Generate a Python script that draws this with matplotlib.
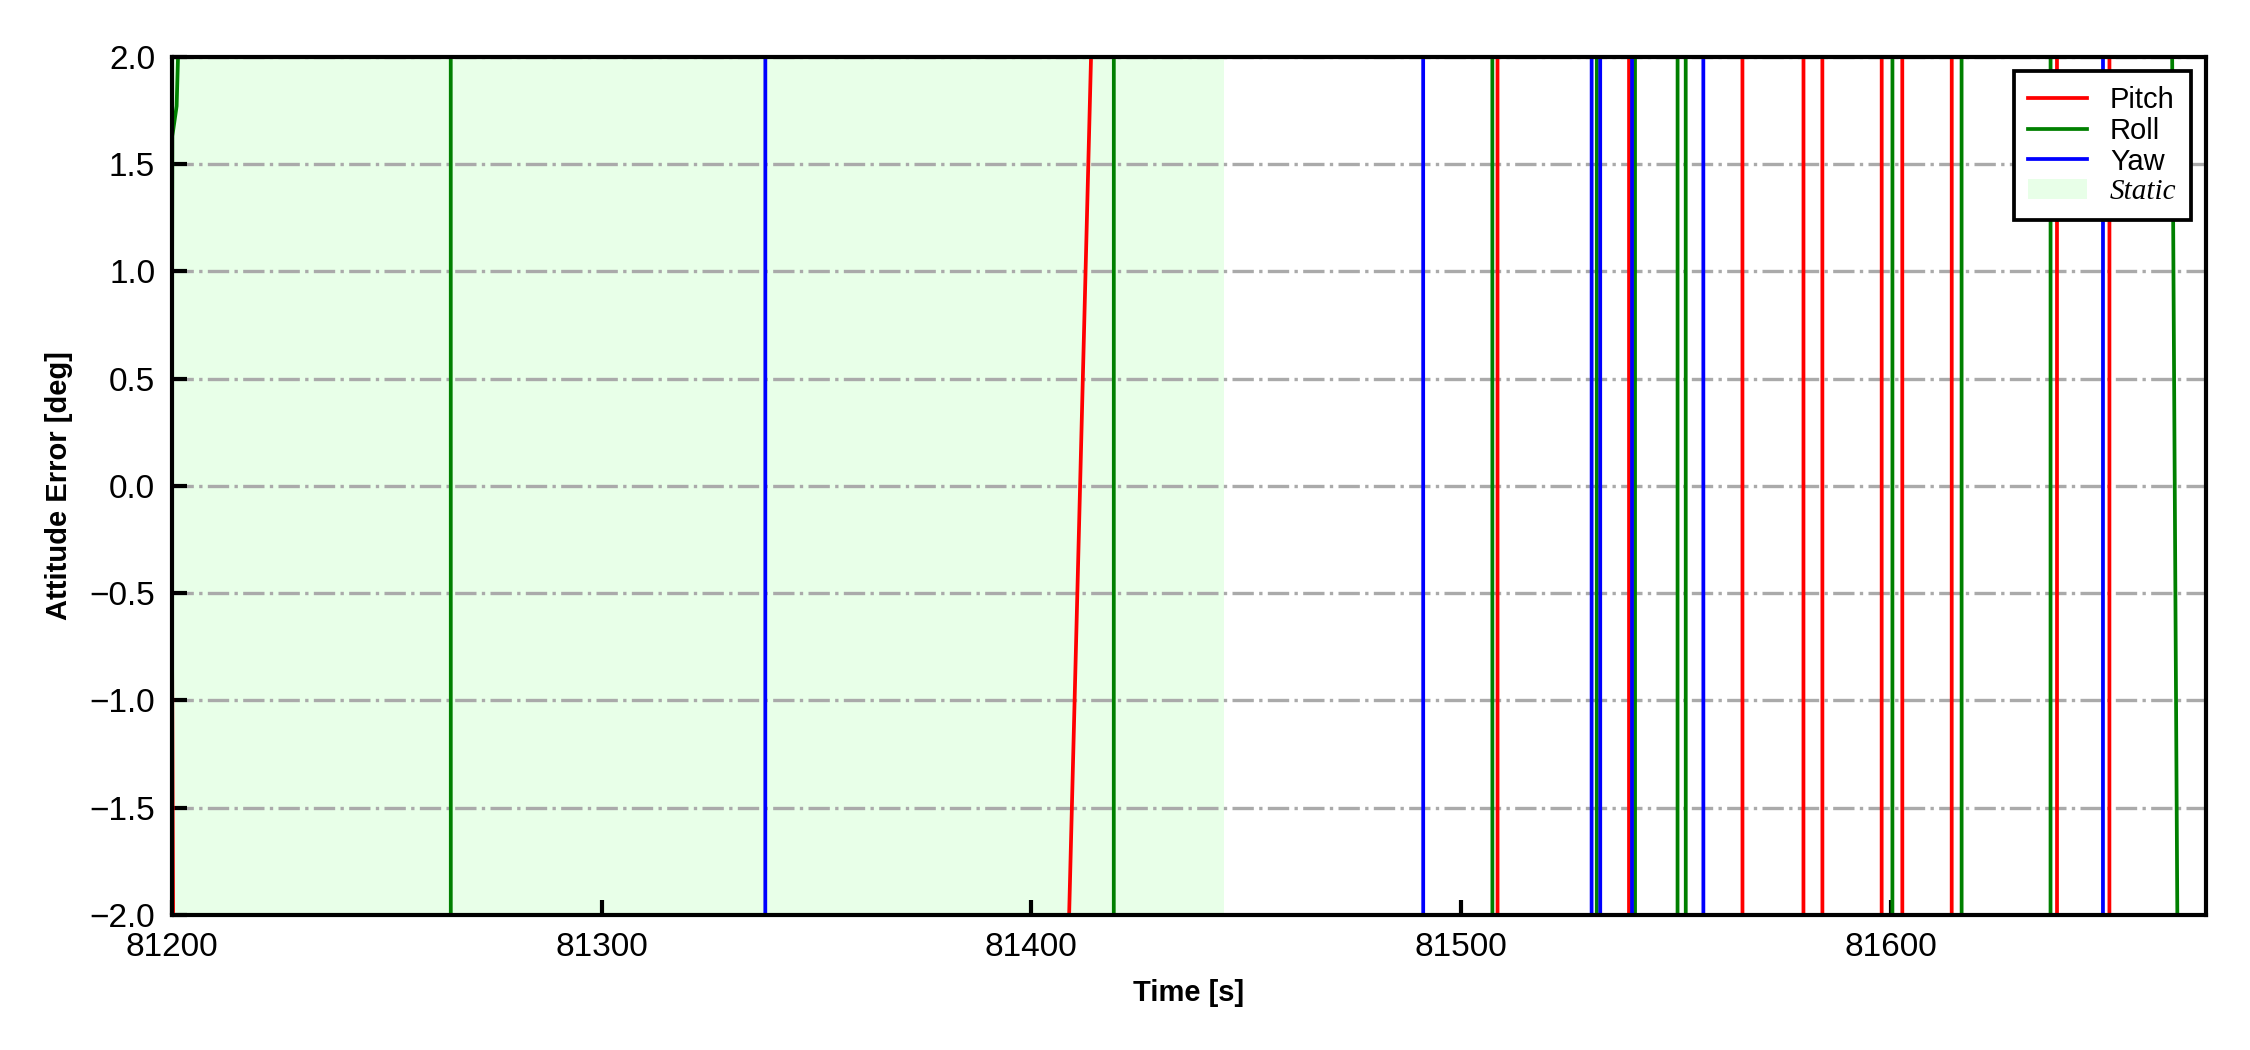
import matplotlib
matplotlib.use("Agg")
import matplotlib.pyplot as plt
from matplotlib.patches import Patch
from matplotlib.lines import Line2D

plt.rcParams['font.family'] = ['Liberation Sans', 'DejaVu Sans']

# attitude errors (deg), mostly far outside the +-2 window -> only wrap crossings show
pitch_t = [81200.0, 81200.3, 81201.0, 81408.0, 81415.0, 81508.4, 81508.6, 81539.0, 81539.2,
           81565.4, 81565.6, 81579.6, 81579.8, 81584.0, 81584.2, 81597.8, 81598.0,
           81602.6, 81602.8, 81614.1, 81614.3, 81638.6, 81638.8, 81650.8, 81651.0, 81673.3]
pitch_v = [-0.6, -2.1, -40.0, -2.63, 2.86, 40.0, -40.0, -40.0, 40.0,
           40.0, -40.0, -40.0, 40.0, 40.0, -40.0, -40.0, 40.0,
           40.0, -40.0, -40.0, 40.0, 40.0, -40.0, -40.0, 40.0, 40.0]

roll_t = [81200.0, 81200.1, 81201.1, 81201.5, 81202.0, 81264.8, 81265.0, 81419.1, 81419.3,
          81507.2, 81507.4, 81531.5, 81531.7, 81540.4, 81540.6, 81550.3, 81550.5,
          81552.2, 81552.4, 81600.3, 81600.5, 81616.4, 81616.6, 81637.1, 81637.3,
          81665.0, 81667.0, 81673.3]
roll_v = [0.5, 1.63, 1.77, 2.05, 40.0, 40.0, -40.0, -40.0, 40.0,
          40.0, -40.0, -40.0, 40.0, 40.0, -40.0, -40.0, 40.0,
          40.0, -40.0, -40.0, 40.0, 40.0, -40.0, -40.0, 40.0,
          3.67, -2.99, -40.0]

yaw_t = [81200.0, 81338.0, 81338.2, 81491.1, 81491.3, 81530.3, 81530.5, 81532.3, 81532.5,
         81539.7, 81539.9, 81556.3, 81556.5, 81649.3, 81649.5, 81673.3]
yaw_v = [-40.0, -40.0, 40.0, 40.0, -40.0, -40.0, 40.0, 40.0, -40.0,
         -40.0, 40.0, 40.0, -40.0, -40.0, 40.0, 40.0]

static_span = (81200.0, 81444.8)
x_range = (81200.0, 81673.3)

fig = plt.figure(figsize=(7.5, 3.5), dpi=300)
ax = fig.add_axes([0.0764, 0.1286, 0.9039, 0.8174])

ax.axvspan(*static_span, color='#00ff00', alpha=0.09, lw=0, zorder=0)
ax.plot(pitch_t, pitch_v, color='red', lw=0.9)
ax.plot(roll_t, roll_v, color='green', lw=0.9)
ax.plot(yaw_t, yaw_v, color='blue', lw=0.9)

ax.set_xlim(*x_range)
ax.set_ylim(-2, 2)
ax.set_xticks([81200, 81300, 81400, 81500, 81600])
ax.set_yticks([-2.0, -1.5, -1.0, -0.5, 0.0, 0.5, 1.0, 1.5, 2.0])
ax.yaxis.grid(True, linestyle='-.', color='#aaaaaa', lw=0.8)
ax.set_axisbelow(True)
ax.tick_params(direction='in', length=3.5, width=1.0, labelsize=8, pad=4)
for s in ax.spines.values():
    s.set_linewidth(1.0)

ax.set_xlabel('Time [s]', fontsize=7, fontweight='bold')
ax.set_ylabel('Attitude Error [deg]', fontsize=7, fontweight='bold')

handles = [Line2D([], [], color='red', lw=0.9),
           Line2D([], [], color='green', lw=0.9),
           Line2D([], [], color='blue', lw=0.9),
           Patch(facecolor='#00ff00', alpha=0.09)]
leg = ax.legend(handles, ['Pitch', 'Roll', 'Yaw', 'Static'], loc='upper right',
                fontsize=7, fancybox=False, framealpha=1, edgecolor='black',
                labelspacing=0.1, borderpad=0.5)
leg.get_frame().set_linewidth(0.9)
leg.get_texts()[3].set_fontfamily('Liberation Serif')
leg.get_texts()[3].set_fontstyle('italic')

fig.savefig('out.png', dpi=300)
